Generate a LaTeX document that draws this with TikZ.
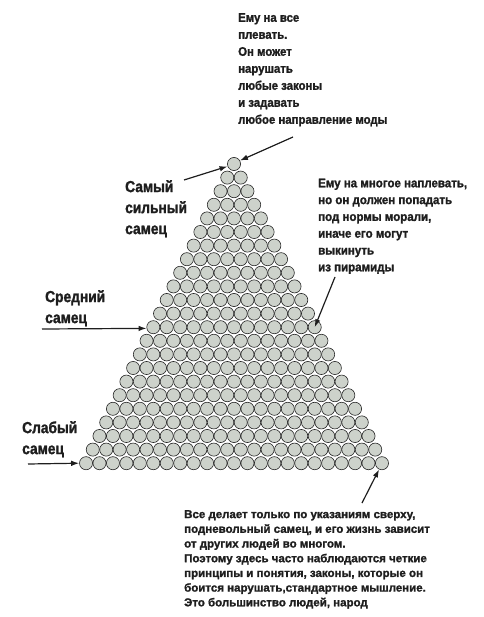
\documentclass[tikz,border=0pt]{standalone}
\usepackage{fontspec}
\newfontfamily\condA[FakeStretch=0.91, FakeBold=1.5]{Liberation Sans}
\newfontfamily\condR[FakeStretch=0.92, FakeBold=1.5]{Liberation Sans}
\newfontfamily\condB[FakeStretch=1.0, FakeBold=1.5]{Liberation Sans}
\newfontfamily\condC[FakeStretch=0.86, FakeBold=1.5]{Liberation Sans}
\usetikzlibrary{arrows.meta}
\definecolor{ballfill}{HTML}{CDD2CB}
\definecolor{ink}{HTML}{1E1E1E}
\tikzset{
  ball/.style={circle, draw=black!85, line width=0.6pt, fill=ballfill, minimum size=13.1pt, inner sep=0pt},
  arr/.style={draw=ink, line width=1.2pt, -{Latex[length=8pt,width=5.5pt]}},
  lbl/.style={anchor=north west, inner sep=0pt, align=left, text=ink},
  smalltxt/.style={font=\condA\bfseries\fontsize{12.5}{17}\selectfont},
  righttxt/.style={font=\condR\bfseries\fontsize{12.5}{16.8}\selectfont},
  bigtxt/.style={font=\condC\bfseries\fontsize{16}{21}\selectfont},
  bottxt/.style={font=\condB\bfseries\fontsize{11.5}{14.7}\selectfont}
}
\begin{document}
\begin{tikzpicture}[x=1pt,y=-1pt]
\useasboundingbox (0,0) rectangle (483,617);
% pyramid of balls
\foreach \i in {0,...,22}{
  \foreach \j in {0,...,\i}{
    \node[ball] (c-\i-\j) at ({234+(\j-\i/2)*13.45},{164+\i*13.6}) {};
  }
}
% texts
\node[lbl, smalltxt] (ttop) at (238,13) {Ему на все\\плевать.\\Он может\\нарушать\\любые законы\\и задавать\\любое направление моды};
\node[lbl, righttxt] (tright) at (318,178.5) {Ему на многое наплевать,\\но он должен попадать\\под нормы морали,\\иначе его могут\\выкинуть\\из пирамиды};
\node[lbl, bigtxt] (tstrong) at (125,180) {Самый\\сильный\\самец};
\node[lbl, bigtxt] (tmid) at (45,290) {Средний\\самец};
\node[lbl, bigtxt] (tweak) at (22,421) {Слабый\\самец};
\node[lbl, bottxt] (tbot) at (184,510) {Все делает только по указаниям сверху,\\подневольный самец, и его жизнь зависит\\от других людей во многом.\\Поэтому здесь часто наблюдаются четкие\\принципы и понятия, законы, которые он\\боится нарушать,стандартное мышление.\\Это большинство людей, народ};
% arrow tails
\coordinate (a1) at (293,137);
\coordinate (a2) at (184,180);
\coordinate (a3) at (42,329);
\coordinate (a4) at (335,277);
\coordinate (a5) at (28,464);
\coordinate (a6) at (362,503);
\draw[arr] (a1) -- (c-0-0.30);
\draw[arr] (a2) -- (c-0-0.200);
\draw[arr] (a3) -- (c-12-0.190);
\draw[arr] (a4) -- (c-12-12.center);
\draw[arr] (a5) -- (c-22-0.west);
\draw[arr] (a6) -- (c-22-22.245);
\end{tikzpicture}
\end{document}
